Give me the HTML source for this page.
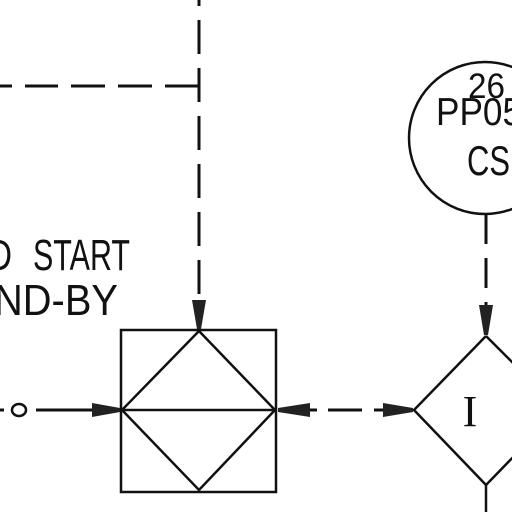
<!DOCTYPE html>
<html><head><style>
html,body{margin:0;padding:0;background:#fff;width:512px;height:512px;overflow:hidden}
svg{display:block}
text{font-family:"Liberation Sans",sans-serif;fill:#111}
</style></head><body>
<svg width="512" height="512" viewBox="0 0 512 512" xmlns="http://www.w3.org/2000/svg">
<g stroke="#111" stroke-width="3" fill="none">
<line x1="199" y1="-28" x2="199" y2="300" stroke-dasharray="34 14"/>
<line x1="0" y1="86" x2="199" y2="86" stroke-dasharray="12 13 33 13 34 13 34 13 33"/>
<rect x="121" y="330" width="155" height="162" stroke-width="2.5"/>
<polyline points="199,331 122,410 199,490 275,410 199,331" stroke-width="2.5"/>
<line x1="122" y1="410" x2="275" y2="410" stroke-width="2.5"/>
<line x1="0" y1="410" x2="4" y2="410"/>
<ellipse cx="19" cy="410" rx="7" ry="6" stroke-width="2.5"/>
<line x1="36" y1="410" x2="95" y2="410"/>
<line x1="300" y1="410" x2="317" y2="410"/>
<line x1="328" y1="410" x2="362" y2="410"/>
<line x1="374" y1="410" x2="390" y2="410"/>
<circle cx="485" cy="138" r="76" stroke-width="2.5"/>
<line x1="486" y1="214" x2="486" y2="305" stroke-dasharray="30 14"/>
<polyline points="486,336 414,410 486,485" stroke-width="2.5"/>
<line x1="486" y1="336" x2="530" y2="380" stroke-width="2.5"/>
<line x1="486" y1="485" x2="520" y2="450" stroke-width="2.5"/>
<line x1="486" y1="485" x2="486" y2="512" stroke-width="2.5"/>
</g>
<g fill="#222">
<polygon points="192,300 206,300 201,329 197,329"/>
<polygon points="92,403 92,417 120,412 120,408"/>
<polygon points="310,403 310,417 278,412 278,408"/>
<polygon points="383,403 383,417 413,412 413,408"/>
<polygon points="479,305 493,305 488,335 484,335"/>
</g>
<text x="-12" y="270" font-size="44" textLength="24" lengthAdjust="spacingAndGlyphs">D</text>
<text x="33" y="270" font-size="44" textLength="97" lengthAdjust="spacingAndGlyphs">START</text>
<text x="-6" y="315" font-size="44" textLength="124" lengthAdjust="spacingAndGlyphs">ND-BY</text>
<text x="468" y="98" font-size="35" textLength="37" lengthAdjust="spacingAndGlyphs">26</text>
<text x="436" y="125" font-size="39" textLength="86" lengthAdjust="spacingAndGlyphs">PP05</text>
<text x="467" y="175" font-size="42" textLength="43" lengthAdjust="spacingAndGlyphs">CS</text>
<text x="470" y="426" font-size="44" text-anchor="middle" style="font-family:'Liberation Serif',serif">I</text>
</svg>
</body></html>
